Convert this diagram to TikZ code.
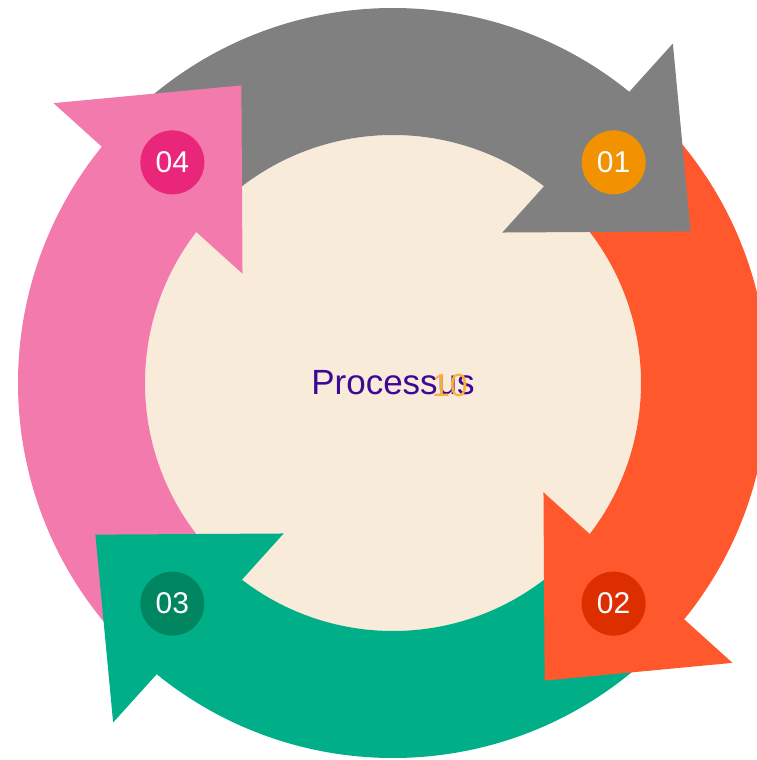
\documentclass[tikz,border=0pt]{standalone}
\usepackage{fontspec}
\setmainfont{Liberation Sans}
\usepackage{tikz}
\usetikzlibrary{positioning}
\definecolor{ringgray}{RGB}{128,128,128}
\definecolor{ringorange}{RGB}{255,88,44}
\definecolor{ringgreen}{RGB}{0,175,136}
\definecolor{ringpink}{RGB}{242,122,172}
\definecolor{dotorange}{RGB}{242,146,0}
\definecolor{dotred}{RGB}{221,46,0}
\definecolor{dotgreen}{RGB}{0,133,97}
\definecolor{dotpink}{RGB}{233,38,122}
\definecolor{hubcream}{RGB}{248,235,218}
\definecolor{titlepurple}{RGB}{62,8,150}
\definecolor{numorange}{RGB}{251,176,59}

\begin{document}
\begin{tikzpicture}[x=1pt, y=1pt,
badge/.style={circle, minimum size=64pt, inner sep=0pt, text=white,
font=\fontsize{30}{30}\selectfont}]
\useasboundingbox (-393,-377) rectangle (363,383);
\node[circle, fill=hubcream, minimum size=496pt, inner sep=0pt] (hub) at (0,0){};
% ring bodies first, heads on top
\foreach \a/\c in {0/ringgray, -90/ringorange, 180/ringgreen, 90/ringpink}{
\fill[\c] (\a+131:375pt) arc[start angle=\a+131, end angle=\a+49, radius=375pt]
 -- (\a+49:248pt) arc[start angle=\a+49, end angle=\a+131, radius=248pt] -- cycle;}
\foreach \a/\c in {0/ringgray, -90/ringorange, 180/ringgreen, 90/ringpink}{
\fill[\c] (\a+50.5:440pt) -- (\a+27:334pt) -- (\a+54:186pt) -- cycle;}
\foreach \a/\c/\t in {45/dotorange/01, -45/dotred/02, 225/dotgreen/03, 135/dotpink/04}{
\node[badge, fill=\c] (b\t) at (\a:312pt){\t};}
\node[text=titlepurple, inner sep=0pt, font=\fontsize{35}{35}\selectfont] (title) at (hub.center){Processus};
\node[text=numorange, inner sep=0pt, font=\fontsize{32}{32}\selectfont] (num) at (57,-2){10};
\end{tikzpicture}
\end{document}
